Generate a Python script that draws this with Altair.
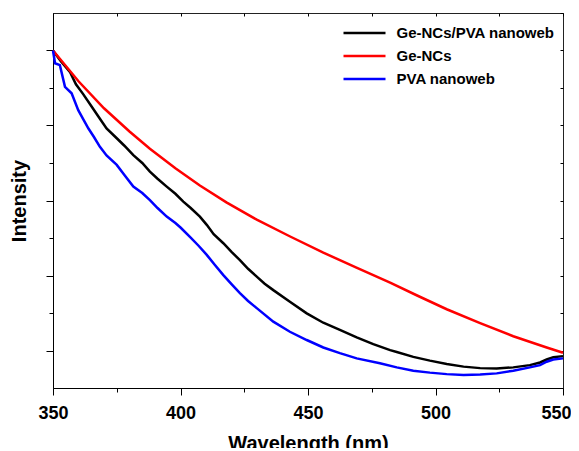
import altair as alt
import pandas as pd

series_names = ["Ge-NCs/PVA nanoweb", "Ge-NCs", "PVA nanoweb"]
series_colors = ["#000000", "#ff0000", "#0000ff"]

# Ge-NCs/PVA nanoweb (black)
black_x = [350, 353, 356.7, 359, 361.9, 365, 368.4, 371, 375, 378, 381.5, 385, 388, 391,
           394.6, 398, 401.1, 404, 407.6, 410.3, 413, 416.8, 420, 423.3, 426.5, 429.9,
           433, 436.4, 442.9, 449.5, 456, 462.5, 469.1, 475.6, 482.2, 484.8, 491.3, 497.8,
           504.4, 511, 517.5, 524, 530.5, 537, 541, 543.6, 546.2, 550]
black_y = [1.0, 0.972, 0.942, 0.91, 0.883, 0.852, 0.818, 0.792, 0.766, 0.746, 0.721, 0.70,
           0.677, 0.658, 0.637, 0.618, 0.597, 0.58, 0.557, 0.535, 0.51, 0.486, 0.463, 0.441,
           0.418, 0.397, 0.378, 0.361, 0.330, 0.299, 0.274, 0.255, 0.235, 0.217, 0.201,
           0.196, 0.183, 0.173, 0.164, 0.157, 0.153, 0.152, 0.155, 0.161, 0.168, 0.176,
           0.182, 0.185]

# Ge-NCs (red)
red_x = [350, 360, 370, 380, 388, 398, 407.6, 418, 429.9, 443, 456, 469, 482.2, 493,
         504.4, 517.5, 530.5, 543.6, 550]
red_y = [1.0, 0.918, 0.846, 0.784, 0.738, 0.686, 0.640, 0.595, 0.549, 0.504, 0.461, 0.421,
         0.381, 0.346, 0.310, 0.273, 0.238, 0.208, 0.194]

# PVA nanoweb (blue)
blue_x = [350, 350.8, 352.7, 354.7, 357.3, 359.9, 362, 363.9, 366, 368.4, 371, 375, 378,
          381.5, 385, 388, 391, 394.6, 398, 400, 403.7, 407, 410.3, 413.5, 416.8, 420,
          423.3, 426.5, 429.9, 436.4, 442.9, 449.5, 456, 462.5, 469.1, 478.2, 484.8, 491.3,
          497.8, 504.4, 511, 517.5, 524, 530.5, 537, 541, 543.6, 546.2, 550]
blue_y = [1.0, 0.966, 0.961, 0.903, 0.886, 0.841, 0.815, 0.792, 0.77, 0.743, 0.72, 0.695,
          0.668, 0.637, 0.62, 0.601, 0.58, 0.557, 0.54, 0.528, 0.503, 0.48, 0.455, 0.428,
          0.401, 0.377, 0.353, 0.332, 0.313, 0.277, 0.250, 0.228, 0.208, 0.193, 0.179,
          0.166, 0.155, 0.146, 0.141, 0.137, 0.135, 0.136, 0.139, 0.146, 0.155, 0.161,
          0.170, 0.176, 0.179]

x_major_labelled = [350, 400, 450, 500]
x_end = [550]
x_minor = [375, 425, 475, 525]
x_all = [350, 375, 400, 425, 450, 475, 500, 525, 550]
y_major = [0.2, 0.4, 0.6, 0.8, 1.0]
y_minor = [0.3, 0.5, 0.7, 0.9]
y_all = [0.1, 0.2, 0.3, 0.4, 0.5, 0.6, 0.7, 0.8, 0.9, 1.0, 1.1]

rows = []
for name, xs, ys in [(series_names[0], black_x, black_y),
                     (series_names[1], red_x, red_y),
                     (series_names[2], blue_x, blue_y)]:
    for i, (a, b) in enumerate(zip(xs, ys)):
        rows.append({"series": name, "wl": a, "val": b, "order": i})
df = pd.DataFrame(rows)

FONT = "Liberation Sans"
xscale = alt.Scale(domain=[350, 550], nice=False, zero=False)
yscale = alt.Scale(domain=[0.1, 1.1], nice=False, zero=False)

label_style = dict(labelFontSize=18, labelFont=FONT, labelFontWeight="bold",
                   labelColor="black", labelPadding=9, format="d")

base = alt.Chart(df)

lines = base.mark_line(strokeWidth=2.5).encode(
    x=alt.X("wl:Q", scale=xscale,
            axis=alt.Axis(values=x_major_labelled, tickSize=7, labelFlush=False,
                          title="Wavelength (nm)", titleFont=FONT, titleFontSize=20,
                          titleFontWeight="bold", titleColor="black", titlePadding=11,
                          grid=False, domainColor="black", tickColor="black",
                          **label_style)),
    y=alt.Y("val:Q", scale=yscale,
            axis=alt.Axis(values=y_major, tickSize=7, labels=False, title="Intensity",
                          titleFont=FONT, titleFontSize=20, titleFontWeight="bold",
                          titleColor="black", titlePadding=16, grid=False,
                          domainColor="black", tickColor="black")),
    color=alt.Color("series:N",
                    scale=alt.Scale(domain=series_names, range=series_colors),
                    legend=alt.Legend(title=None, orient="none", legendX=289, legendY=8,
                                      symbolType="M-2,0H2", symbolSize=441,
                                      symbolOffset=10.5,
                                      symbolStrokeWidth=2.5, labelFont=FONT,
                                      labelFontSize=15, labelFontWeight="bold",
                                      labelColor="black", labelOffset=20,
                                      rowPadding=3, padding=0)),
    order="order:Q",
)

minor = base.mark_line(opacity=0).encode(
    x=alt.X("wl:Q", scale=xscale,
            axis=alt.Axis(values=x_minor, tickSize=4, labels=False, title=None,
                          grid=False, domain=False, tickColor="black", orient="bottom")),
    y=alt.Y("val:Q", scale=yscale,
            axis=alt.Axis(values=y_minor, tickSize=4, labels=False, title=None,
                          grid=False, domain=False, tickColor="black", orient="left")),
)

mirror = base.mark_line(opacity=0).encode(
    x=alt.X("wl:Q", scale=xscale,
            axis=alt.Axis(values=x_all, tickSize=3, offset=-3, labels=False, title=None,
                          grid=False, domain=False, tickColor="black", orient="top")),
    y=alt.Y("val:Q", scale=yscale,
            axis=alt.Axis(values=y_all, tickSize=3, offset=-3, labels=False, title=None,
                          grid=False, domain=False, tickColor="black", orient="right")),
)

end_label = base.mark_line(opacity=0).encode(
    x=alt.X("wl:Q", scale=xscale,
            axis=alt.Axis(values=x_end, tickSize=7, title=None, grid=False, domain=False,
                          tickColor="black", orient="bottom", labelAlign="right",
                          labelOffset=8, labelFlush=False, **label_style)),
    y=alt.Y("val:Q", scale=yscale, axis=None),
)

chart = alt.layer(lines, minor, mirror, end_label).resolve_axis(
    x="independent", y="independent"
).properties(
    width=510, height=375,
    autosize=alt.AutoSizeParams(type="none"),
    padding={"left": 45, "top": 5, "right": 8, "bottom": 60},
).configure_view(stroke="#222222", strokeWidth=1)

chart.save("out.html", embed_options={"renderer": "svg", "actions": False})
